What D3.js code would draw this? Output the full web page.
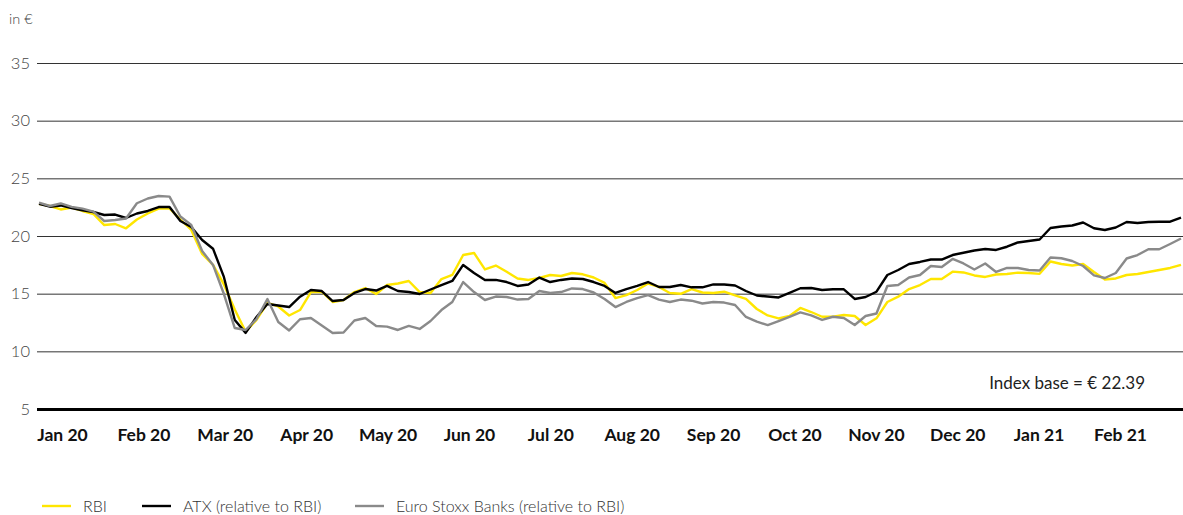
<!DOCTYPE html>
<html>
<head>
<meta charset="utf-8">
<script src="https://cdn.jsdelivr.net/npm/d3@7"></script>
<style>
  html, body { margin: 0; padding: 0; background: #fff; }
  svg { display: block; }
  text { font-family: Lato, "Open Sans", sans-serif; }
</style>
</head>
<body>
<svg id="chart" width="1183" height="515"></svg>
<script>
// Share price, sampled every 4 calendar days starting 2 Jan 2020 (in €)
const startDate = new Date(2020, 0, 2);
const stepDays = 4;

const rbi = [22.8,22.60,22.30,22.47,22.17,21.91,20.95,21.04,20.67,21.43,
  21.95,22.38,22.39,21.43,20.52,18.44,17.49,15.80,13.63,11.7,
  12.72,14.19,13.89,13.11,13.58,15.14,15.17,14.28,14.45,15.14,
  15.49,14.97,15.75,15.88,16.10,15.14,15.06,16.27,16.62,18.35,
  18.53,17.10,17.44,16.90,16.32,16.19,16.36,16.62,16.53,16.79,
  16.68,16.40,15.93,14.62,14.88,15.32,15.88,15.58,15.06,14.99,
  15.40,15.10,15.06,15.17,14.86,14.54,13.67,13.11,12.85,13.06,
  13.76,13.41,13.00,13.00,13.15,13.06,12.28,12.86,14.28,14.74,
  15.40,15.75,16.27,16.27,16.91,16.84,16.58,16.45,16.66,16.71,
  16.82,16.79,16.72,17.79,17.57,17.44,17.57,16.88,16.23,16.32,
  16.62,16.71,16.88,17.05,17.23,17.49];

const atx = [22.78,22.54,22.65,22.43,22.23,22.08,21.82,21.86,21.56,21.95,
  22.17,22.51,22.51,21.30,20.78,19.65,18.90,16.45,12.72,11.6,
  12.98,14.10,13.97,13.84,14.74,15.32,15.23,14.36,14.45,15.06,
  15.40,15.27,15.67,15.23,15.14,14.97,15.36,15.75,16.10,17.49,
  16.79,16.19,16.19,16.01,15.67,15.80,16.40,16.01,16.19,16.32,
  16.27,16.01,15.67,15.06,15.40,15.67,16.01,15.58,15.58,15.75,
  15.55,15.55,15.80,15.80,15.71,15.23,14.84,14.75,14.67,15.06,
  15.47,15.49,15.32,15.38,15.38,14.54,14.71,15.17,16.62,17.05,
  17.57,17.75,17.96,17.96,18.35,18.55,18.74,18.87,18.79,19.07,
  19.44,19.57,19.70,20.69,20.82,20.91,21.17,20.67,20.52,20.74,
  21.21,21.13,21.21,21.24,21.24,21.60];

const banks = [22.90,22.60,22.82,22.52,22.37,22.12,21.30,21.39,21.52,22.84,
  23.25,23.47,23.41,21.69,20.95,18.70,17.49,14.97,12.02,11.85,
  12.80,14.54,12.54,11.81,12.78,12.89,12.24,11.59,11.63,12.67,
  12.89,12.20,12.14,11.85,12.20,11.94,12.63,13.58,14.28,16.01,
  15.14,14.45,14.75,14.71,14.49,14.54,15.23,15.06,15.14,15.45,
  15.40,15.10,14.54,13.84,14.28,14.62,14.88,14.49,14.28,14.49,
  14.39,14.15,14.28,14.23,14.02,12.98,12.57,12.28,12.63,12.98,
  13.37,13.11,12.72,13.00,12.89,12.28,13.06,13.28,15.67,15.75,
  16.40,16.62,17.40,17.31,18.01,17.62,17.10,17.62,16.88,17.23,
  17.23,17.05,17.01,18.14,18.07,17.83,17.40,16.58,16.36,16.79,
  18.05,18.35,18.85,18.85,19.31,19.78];

const yTicks = [5, 10, 15, 20, 25, 30, 35];
const monthLabels = ["Jan 20","Feb 20","Mar 20","Apr 20","May 20","Jun 20","Jul 20",
  "Aug 20","Sep 20","Oct 20","Nov 20","Dec 20","Jan 21","Feb 21"];
const seriesNames = ["RBI", "ATX (relative to RBI)", "Euro Stoxx Banks (relative to RBI)"];
const seriesColors = ["#ffe600", "#000000", "#8a8a8a"];
const indexBase = 22.39;

const dates = rbi.map((_, i) => d3.timeDay.offset(startDate, i * stepDays));

const svg = d3.select("#chart");
const W = 1183;
const left = 37;

const x = d3.scaleTime().domain(d3.extent(dates)).range([39, 1181]);
const y = d3.scaleLinear().domain([5, 35]).range([409, 63]);

// unit label
svg.append("text")
  .attr("x", 9).attr("y", 24)
  .attr("font-size", 14.5).attr("font-weight", 300).attr("fill", "#444")
  .text("in €");

// horizontal grid + value labels
const yAxis = svg.append("g")
  .attr("transform", `translate(${left},0)`)
  .call(d3.axisLeft(y).tickValues(yTicks).tickSize(-(W - left)).tickPadding(7).tickFormat(d3.format("d")));
yAxis.select(".domain").remove();
yAxis.selectAll(".tick line")
  .attr("stroke", d => d === 5 ? "#000" : "#333")
  .attr("stroke-width", d => d === 5 ? 3 : 1);
yAxis.selectAll(".tick text")
  .attr("font-size", 16.5).attr("font-weight", 300).attr("fill", "#444")
  .attr("font-family", "Lato, sans-serif");

// month labels
const xm = d3.scalePoint().domain(monthLabels).range([62, 1120]);
const xAxis = svg.append("g")
  .attr("transform", "translate(0,425)")
  .call(d3.axisBottom(xm).tickSize(0).tickPadding(0));
xAxis.select(".domain").remove();
xAxis.selectAll(".tick text")
  .attr("font-size", 17.5).attr("font-weight", 700).attr("fill", "#111")
  .attr("font-family", "Lato, sans-serif")
  .attr("dy", "0.92em");

// series lines
const line = d3.line()
  .x((d, i) => x(dates[i]))
  .y(d => y(d));

[rbi, atx, banks].forEach((vals, k) => {
  svg.append("path")
    .datum(vals)
    .attr("fill", "none")
    .attr("stroke", seriesColors[k])
    .attr("stroke-width", 2.4)
    .attr("stroke-linejoin", "round")
    .attr("d", line);
});

// index base note
svg.append("text")
  .attr("x", 1145).attr("y", 389)
  .attr("text-anchor", "end")
  .attr("font-size", 17).attr("font-weight", 400).attr("fill", "#222")
  .text(`Index base = € ${indexBase.toFixed(2)}`);

// legend
const legendX = [42, 142, 355];
const lg = svg.append("g").attr("transform", "translate(0,506)");
seriesNames.forEach((name, k) => {
  const g = lg.append("g").attr("transform", `translate(${legendX[k]},0)`);
  g.append("line").attr("x1", 0).attr("x2", 29).attr("y1", 0).attr("y2", 0)
    .attr("stroke", seriesColors[k]).attr("stroke-width", 2.4);
  g.append("text").attr("x", 41).attr("y", 0).attr("dy", "0.35em")
    .attr("font-size", 16).attr("font-weight", 300).attr("fill", "#333")
    .text(name);
});
</script>
</body>
</html>
